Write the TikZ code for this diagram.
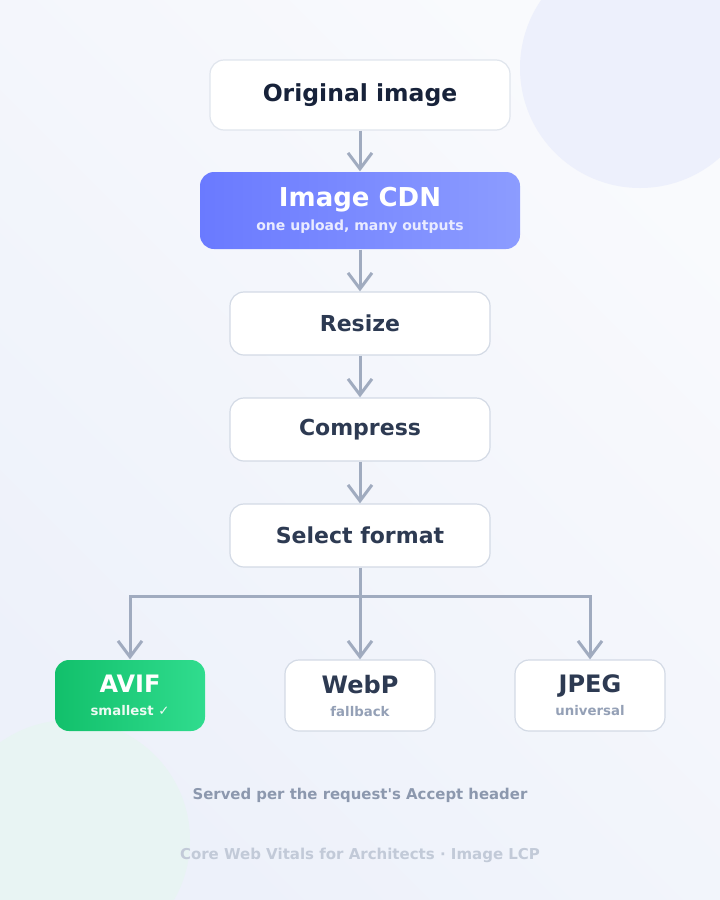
\documentclass[tikz,border=0pt]{standalone}
\usepackage{fontspec}
\setmainfont{DejaVu Sans}
\newfontfamily\plainfont{DejaVu Sans}
\usetikzlibrary{arrows.meta}
\definecolor{bgA}{HTML}{F9FAFD}
\definecolor{bgB}{HTML}{EDF1FA}
\definecolor{blobBlue}{HTML}{EDF0FC}
\definecolor{blobGreen}{HTML}{E8F4F3}
\definecolor{boxLine}{HTML}{D3DAE5}
\definecolor{arrowGray}{HTML}{A0ABBF}
\definecolor{inkDark}{HTML}{17223A}
\definecolor{ink}{HTML}{2D3A52}
\definecolor{subGray}{HTML}{94A0B6}
\definecolor{noteGray}{HTML}{8C98AE}
\definecolor{footGray}{HTML}{C2CAD8}
\definecolor{cdnL}{HTML}{6A7AFF}
\definecolor{cdnR}{HTML}{8C9CFF}
\definecolor{avifL}{HTML}{12C06B}
\definecolor{avifR}{HTML}{30DC8E}
\begin{document}
\begin{tikzpicture}[x=1pt,y=-1pt,
  stage/.style={draw=boxLine,line width=1.2pt,fill=white,rounded corners=14pt,
    minimum width=260pt,minimum height=63pt,font=\bfseries\fontsize{22}{26}\selectfont,text=ink},
  fmt/.style={draw=boxLine,line width=1.2pt,fill=white,rounded corners=14pt,
    minimum width=150pt,minimum height=71pt,align=center,text=ink,
    font=\bfseries\fontsize{24}{25}\selectfont},
  flow/.style={draw=arrowGray,line width=3pt,-{Straight Barb[length=16pt,width=24pt,line width=3pt]}}]
\useasboundingbox (0,0) rectangle (720,900);
\shade[left color=bgA,right color=bgB,shading angle=-45] (0,0) rectangle (720,900);
\fill[blobBlue] (640,68) circle (120);
\fill[blobGreen] (70,840) circle (120);

\node[stage,draw=boxLine!70,minimum width=300pt,minimum height=70pt,
  font=\bfseries\fontsize{23.5}{28}\selectfont,text=inkDark] (Original) at (360,95) {Original image};
\node[stage,draw=none,left color=cdnL,right color=cdnR,minimum width=320pt,minimum height=77pt,
  align=center,text=white,font=\bfseries\fontsize{26}{26}\selectfont] (CDN) at (360,210.5)
  {Image CDN\\[-2pt]
   {\fontsize{14}{16}\selectfont\color{white!85!cdnL}one upload, many outputs}};
\node[stage] (Resize) at (360,323.5) {Resize};
\node[stage] (Compress) at (360,429.5) {Compress};
\node[stage] (Select) at (360,535.5) {Select format};

\node[fmt,draw=none,left color=avifL,right color=avifR,text=white] (AVIF) at (130,695.5)
  {AVIF\\[-2pt]
   {\fontsize{13.3}{16}\selectfont\color{white!92!avifL}smallest ✓}};
\node[fmt] (WebP) at (360,695.5)
  {WebP\\[-2pt]
   {\fontsize{13.3}{16}\selectfont\color{subGray}fallback}};
\node[fmt] (JPEG) at (590,695.5)
  {JPEG\\[-2pt]
   {\fontsize{13.3}{16}\selectfont\color{subGray}universal}};

\coordinate (Split) at (360,596);

\draw[flow] (Original) -- (CDN);
\draw[flow] (CDN) -- (Resize);
\draw[flow] (Resize) -- (Compress);
\draw[flow] (Compress) -- (Select);
\draw[draw=arrowGray,line width=3pt] (Select) -- (Split);
\draw[flow] (Split) -| (AVIF);
\draw[flow] (Split) -- (WebP);
\draw[flow] (Split) -| (JPEG);

\node[font=\plainfont\bfseries\fontsize{14.9}{18}\selectfont,text=noteGray] (Served) at (360,795)
  {Served per the request's Accept header};
\node[font=\bfseries\fontsize{15}{18}\selectfont,text=footGray] (Footer) at (360,855)
  {Core Web Vitals for Architects · Image LCP};
\end{tikzpicture}
\end{document}
